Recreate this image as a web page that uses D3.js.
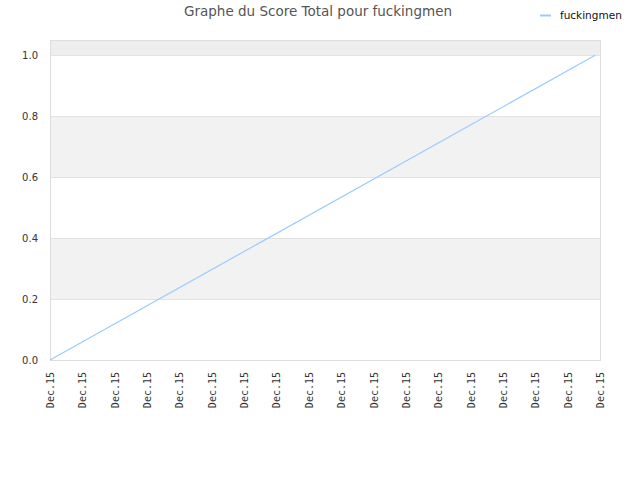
<!DOCTYPE html>
<html>
<head>
<meta charset="utf-8">
<script src="https://cdn.jsdelivr.net/npm/d3@7"></script>
<style>
body { margin: 0; background: #fff; }
</style>
</head>
<body>
<div id="chart-area"></div>
<script>
// data
let seriesName = "fuckingmen";
let xTickLabels = ["Dec.15","Dec.15","Dec.15","Dec.15","Dec.15","Dec.15","Dec.15","Dec.15","Dec.15",
                   "Dec.15","Dec.15","Dec.15","Dec.15","Dec.15","Dec.15","Dec.15","Dec.15","Dec.15"];
let pointX = [0, 16.85];       // position along the tick index
let pointY = [0.0, 1.0];       // score
let yTicks = [0.0, 0.2, 0.4, 0.6, 0.8, 1.0];
let bandRanges = [[0.2, 0.4], [0.6, 0.8]];

let margin = {top: 40, right: 40, bottom: 120, left: 50};
let width = 640 - margin.left - margin.right,
    height = 480 - margin.top - margin.bottom;

let svg = d3.select("#chart-area").append("svg")
    .attr("width", 640)
    .attr("height", 480)
    .style("font-family", "DejaVu Sans, sans-serif");

let g = svg.append("g")
    .attr("transform", "translate(" + margin.left + "," + margin.top + ")");

// Scales
let x = d3.scaleLinear()
    .domain([0, xTickLabels.length - 1])
    .range([0, width]);

let y = d3.scaleLinear()
    .domain([0, 1.05])
    .range([height, 0]);

// top band above 1.0
g.append("rect")
    .attr("x", 0).attr("y", 0)
    .attr("width", width).attr("height", y(1.0))
    .attr("fill", "#eeeeee");

g.selectAll(".band")
    .data(bandRanges)
  .enter().append("rect")
    .attr("class", "band")
    .attr("x", 0)
    .attr("y", d => y(d[1]))
    .attr("width", width)
    .attr("height", d => y(d[0]) - y(d[1]))
    .attr("fill", "#f2f2f2");

// grid lines
g.selectAll(".grid")
    .data(yTicks.slice(1))
  .enter().append("line")
    .attr("class", "grid")
    .attr("x1", 0).attr("x2", width)
    .attr("y1", d => Math.round(y(d)) + 0.5)
    .attr("y2", d => Math.round(y(d)) + 0.5)
    .attr("stroke", "#e2e2e2");

// frame
g.append("rect")
    .attr("x", 0.5).attr("y", 0.5)
    .attr("width", width).attr("height", height)
    .attr("fill", "none")
    .attr("stroke", "#dddddd");

// Axes
let yAxis = d3.axisLeft(y)
    .tickValues(yTicks)
    .tickFormat(d3.format(".1f"))
    .tickSize(0)
    .tickPadding(12);

let yg = g.append("g").call(yAxis);
yg.select(".domain").remove();
yg.selectAll("text")
    .attr("fill", "#333")
    .style("font-size", "10px")
    .style("font-family", "DejaVu Sans, sans-serif");

let xAxis = d3.axisBottom(x)
    .tickValues(d3.range(xTickLabels.length))
    .tickFormat(i => xTickLabels[i])
    .tickSize(0);

let xg = g.append("g")
    .attr("transform", "translate(0," + height + ")")
    .call(xAxis);
xg.select(".domain").remove();
xg.selectAll("text")
    .attr("fill", "#333")
    .style("font-size", "10px")
    .style("font-family", "DejaVu Sans Mono, monospace")
    .attr("text-anchor", "end")
    .attr("dy", "0.35em")
    .attr("transform", "translate(0,12)rotate(-90)")
    .attr("x", 0)
    .attr("y", 0);

// line
let line = d3.line()
    .x((d, i) => x(pointX[i]))
    .y(d => y(d));

g.append("path")
    .datum(pointY)
    .attr("d", line)
    .attr("fill", "none")
    .attr("stroke", "#99ccff")
    .attr("stroke-width", 1.2);

// title
svg.append("text")
    .attr("x", 318)
    .attr("y", 16)
    .attr("text-anchor", "middle")
    .attr("fill", "#555")
    .style("font-size", "13.5px")
    .text("Graphe du Score Total pour " + seriesName);

// legend
svg.append("line")
    .attr("x1", 540).attr("x2", 551)
    .attr("y1", 15.5).attr("y2", 15.5)
    .attr("stroke", "#99ccff")
    .attr("stroke-width", 2);

svg.append("text")
    .attr("x", 560)
    .attr("y", 19)
    .attr("fill", "#111")
    .style("font-size", "10.5px")
    .text(seriesName);
</script>
</body>
</html>
